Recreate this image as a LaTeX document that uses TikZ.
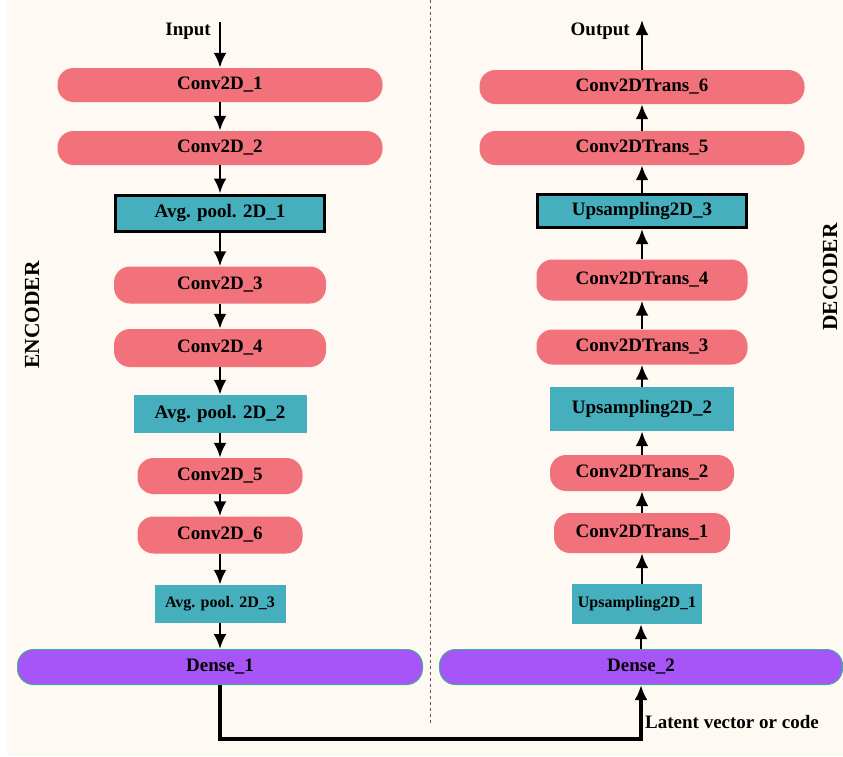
\documentclass[tikz,border=0pt]{standalone}
\usepackage{fontspec}
\setmainfont{Liberation Serif}
\usetikzlibrary{arrows.meta,shapes}

\begin{document}
\begin{tikzpicture}[x=1pt,y=-1pt]

		\definecolor{convred}{RGB}{241,114,122}
		\definecolor{poolteal}{RGB}{69,175,189}
		\definecolor{densepurple}{RGB}{168,85,247}
		\definecolor{densegreen}{RGB}{60,175,150}
		\definecolor{paper}{RGB}{254,249,243}
		
		\tikzstyle{edge} = [draw,line width=2.8pt,-{Latex[length=15pt,width=13pt]}]
		\tikzset{layer/.style = {font=\fontsize{19}{21}\selectfont\bfseries, inner sep=0pt}}
		
		% background
		\fill[white] (0,0) rectangle (843,756);
		\fill[paper] (7,0) rectangle (843,756);
		\useasboundingbox (0,0) rectangle (843,756);
		\draw[gray!70!black, dashed, thin] (430,0) -- (430,724);
		
		\tikzset{vertex/.style = {layer, fill=convred, rounded corners=16pt}}
		\node[vertex, minimum width=325, minimum height=34] (c1) at (220,85) {Conv2D\_1};
		\node[vertex, minimum width=325, minimum height=34] (c2) at (220,148) {Conv2D\_2};
		\node[vertex, minimum width=212, minimum height=37] (c3) at (220,285) {Conv2D\_3};
		\node[vertex, minimum width=212, minimum height=38] (c4) at (220,348) {Conv2D\_4};
		\node[vertex, minimum width=165, minimum height=36] (c5) at (220,476) {Conv2D\_5};
		\node[vertex, minimum width=165, minimum height=37] (c6) at (220,535) {Conv2D\_6};
		\node[vertex, minimum width=325, minimum height=34] (t6) at (642,87) {Conv2DTrans\_6};
		\node[vertex, minimum width=325, minimum height=34] (t5) at (642,148) {Conv2DTrans\_5};
		\node[vertex, minimum width=211, minimum height=41] (t4) at (642,280) {Conv2DTrans\_4};
		\node[vertex, minimum width=211, minimum height=35] (t3) at (642,347) {Conv2DTrans\_3};
		\node[vertex, minimum width=184, minimum height=36] (t2) at (642,473) {Conv2DTrans\_2};
		\node[vertex, minimum width=176, minimum height=40] (t1) at (642,533) {Conv2DTrans\_1};
		
		\tikzset{vertex/.style = {layer, fill=poolteal}}
		\node[vertex, draw, line width=3pt, minimum width=209, minimum height=36] (p1) at (220,213) {Avg. pool. 2D\_1};
		\node[vertex, minimum width=173, minimum height=38] (p2) at (220,414) {Avg. pool. 2D\_2};
		\node[vertex, minimum width=131, minimum height=38, font=\fontsize{16}{18}\selectfont\bfseries] (p3) at (220,604) {Avg. pool. 2D\_3};
		\node[vertex, draw, line width=3pt, minimum width=209, minimum height=33] (u3) at (642,211) {Upsampling2D\_3};
		\node[vertex, minimum width=184, minimum height=44] (u2) at (642,409) {Upsampling2D\_2};
		\node[vertex, minimum width=130, minimum height=40, font=\fontsize{16}{18}\selectfont\bfseries] (u1) at (637,604) {Upsampling2D\_1};
		
		\tikzset{vertex/.style = {layer, fill=densepurple, draw=densegreen, line width=1pt, rounded corners=16pt}}
		\node[vertex, minimum width=405, minimum height=35] (d1) at (220,667) {Dense\_1};
		\node[vertex, minimum width=403, minimum height=35] (d2) at (641,667) {Dense\_2};
		
		% labels
		\node[layer, anchor=east] (input) at (211,31) {Input};
		\node[layer, anchor=east] (output) at (630,31) {Output};
		\node[layer, anchor=west] (latent) at (645,722) {Latent vector or code};
		\node[layer, rotate=90, font=\fontsize{21.5}{23}\selectfont\bfseries] (enc) at (32,315) {ENCODER};
		\node[layer, rotate=90, font=\fontsize{21.5}{23}\selectfont\bfseries] (dec) at (830,277) {DECODER};
		\coordinate (in) at (220,22);
		\coordinate (out) at (642,20);
		
		\draw[edge] (in) to (c1);
		\draw[edge] (c1) to (c2);
		\draw[edge] (c2) to (p1);
		\draw[edge] (p1) to (c3);
		\draw[edge] (c3) to (c4);
		\draw[edge] (c4) to (p2);
		\draw[edge] (p2) to (c5);
		\draw[edge] (c5) to (c6);
		\draw[edge] (c6) to (p3);
		\draw[edge] (p3) to (d1);
		\draw[edge, line width=3.5pt] (d1.south) -- ++(0,54) -| (d2.south);
		\draw[edge] (d2.north) to (d2.north |- u1.south);
		\draw[edge] (u1.north -| t1.south) to (t1.south);
		\draw[edge] (t1) to (t2);
		\draw[edge] (t2) to (u2);
		\draw[edge] (u2) to (t3);
		\draw[edge] (t3) to (t4);
		\draw[edge] (t4) to (u3);
		\draw[edge] (u3) to (t5);
		\draw[edge] (t5) to (t6);
		\draw[edge] (t6) to (out);
		\end{tikzpicture}
\end{document}
